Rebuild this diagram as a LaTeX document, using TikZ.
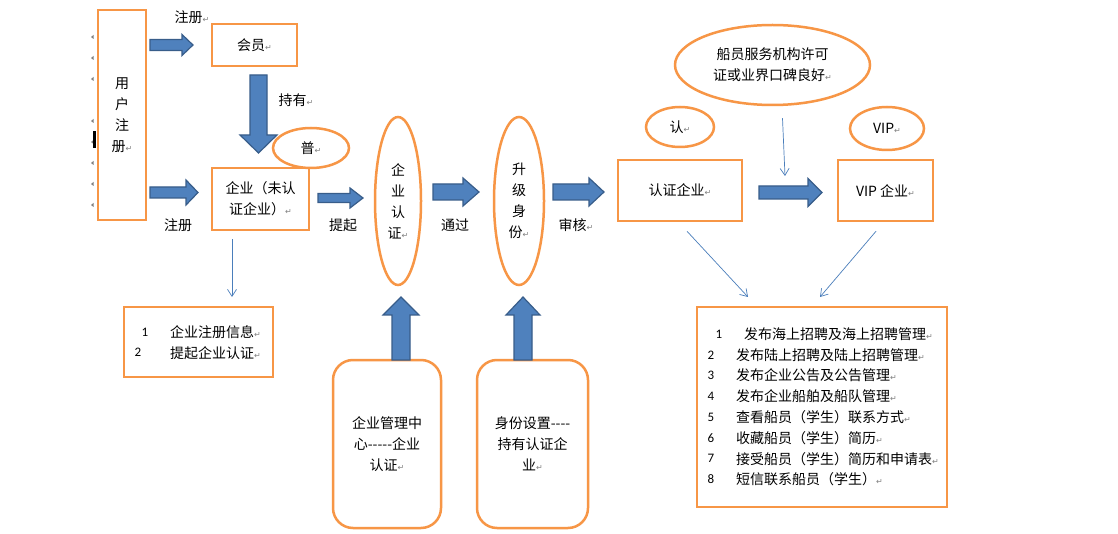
\documentclass[tikz,border=0pt]{standalone}
\usepackage{fontspec}
\setmainfont{Noto Sans CJK SC}
\newfontfamily\dvfont{DejaVu Sans}
\newfontfamily\numfont{Carlito}
\usetikzlibrary{arrows.meta,shapes.geometric}
\definecolor{obox}{HTML}{F79646}
\definecolor{afill}{HTML}{4F81BD}
\definecolor{aline}{HTML}{385D8A}
\definecolor{thinc}{HTML}{4A7EBB}
\newcommand\parmk{{\dvfont\fontsize{8}{8}\selectfont\color{gray}↵}}
\newcommand\hblk[6]{\filldraw[blk] (#1,#4-#5)--(#3,#4-#5)--(#3,#4-#6)--(#2,#4)--(#3,#4+#6)--(#3,#4+#5)--(#1,#4+#5)--cycle;}
\newcommand\vblk[6]{\filldraw[blk] (#1-#5,#2)--(#1+#5,#2)--(#1+#5,#4)--(#1+#6,#4)--(#1,#3)--(#1-#6,#4)--(#1-#5,#4)--cycle;}
\begin{document}
\begin{tikzpicture}[x=1pt,y=-1pt,
  ob/.style={draw=obox,line width=2.5pt,inner sep=0pt,font=\fontsize{14}{21}\selectfont,align=center},
  oel/.style={ob,ellipse},
  txt/.style={font=\fontsize{14}{21}\selectfont,inner sep=0pt,align=center},
  ltxt/.style={txt,anchor=west},
  num/.style={font=\numfont\fontsize{13}{13}\selectfont,inner sep=0pt},
  blk/.style={fill=afill,draw=aline,line width=1.2pt,line join=miter},
  thinarr/.style={draw=thinc,line width=0.7pt,-{Straight Barb[length=7pt,width=9pt]}},
  mk/.style={fill=gray}]
\useasboundingbox (0,0) rectangle (1118,534);
\fill[white] (0,0) rectangle (1118,534);

% small editor marks at the left edge
\foreach \yy in {37,58,79,121,142,163,184,205} {\fill[mk] (93.5,\yy-2)--(93.5,\yy+2)--(91,\yy)--cycle;}
\fill[black] (93,131) rectangle (95.5,148);

% boxes
\node[ob,minimum width=48,minimum height=210] (user) at (122,115) {用\\户\\注\\册\parmk};
\node[ob,minimum width=85,minimum height=42] (member) at (254.5,45) {会员\parmk};
\node[ob,minimum width=97,minimum height=62] (qiye) at (260.5,199) {企业（未认\\证企业）\parmk};
\node[ob,minimum width=124,minimum height=61] (cert) at (680,190.5) {认证企业\parmk};
\node[ob,minimum width=95,minimum height=61] (vip) at (885.5,190.5) {VIP 企业\parmk};
\node[ob,minimum width=149,minimum height=70] (box12) at (198.5,342) {};
\node[ob,minimum width=250,minimum height=200] (list) at (822,407) {};
\node[ob,rounded corners=20pt,minimum width=108,minimum height=168] (mgmt) at (387,444) {企业管理中\\心-{}-{}-{}-{}-企业\\认证\parmk};
\node[ob,rounded corners=20pt,minimum width=111,minimum height=168] (ident) at (532.5,444) {身份设置-{}-{}-{}-\\持有认证企\\业\parmk};

% ellipses
\node[oel,minimum width=76,minimum height=40] (pu) at (311,148) {普\parmk};
\node[oel,minimum width=46,minimum height=168] (qyrz) at (398,201) {企\\业\\认\\证\parmk};
\node[oel,minimum width=50,minimum height=168] (sjsf) at (519,201) {升\\级\\身\\份\parmk};
\node[oel,minimum width=68,minimum height=40] (ren) at (680,127) {认\parmk};
\node[oel,minimum width=74,minimum height=43] (vipe) at (887,128.5) {VIP\parmk};
\node[oel,minimum width=195,minimum height=80] (crew) at (772.5,65) {船员服务机构许可\\证或业界口碑良好\parmk};

% block arrows
\hblk{150}{193}{182}{45}{5.5}{10.5}
\hblk{150}{198}{186}{192.5}{5.5}{12.5}
\hblk{318}{363}{350}{198}{4.5}{10}
\hblk{433}{479}{463}{192}{8}{14}
\hblk{553}{604}{589}{192}{8}{14}
\hblk{759}{822}{808}{192.5}{6.5}{14}
\vblk{258.5}{75}{153}{135}{8.5}{18.5}
\vblk{401}{360}{297}{315}{9}{18}
\vblk{523}{360}{297}{315}{9}{17}

% labels
\node[txt] (l1) at (192,17) {注册\parmk};
\node[txt] (l2) at (296,100) {持有\parmk};
\node[txt] (l3) at (178,225) {注册};
\node[txt] (l4) at (343,225) {提起};
\node[txt] (l5) at (455,225) {通过};
\node[txt] (l6) at (576,225) {审核\parmk};

% thin connectors
\coordinate (qa) at (232,297);
\coordinate (ca) at (748,297);
\coordinate (va) at (820,297);
\coordinate (cr) at (785,176);
\draw[thinarr] ([xshift=-28.5pt,yshift=-8pt]qiye.south) -- (qa);
\draw[thinarr] ([xshift=7pt,yshift=-9pt]cert.south) -- (ca);
\draw[thinarr] ([xshift=-9.5pt,yshift=-9pt]vip.south) -- (va);
\draw[thinarr] ([xshift=10pt,yshift=-12pt]crew.south) -- (cr);

% box 1-2 text
\node[num] (n1) at (145,332) {1};
\node[num] (n2) at (138,352) {2};
\node[ltxt] (t1) at (170,332) {企业注册信息\parmk};
\node[ltxt] (t2) at (170,353) {提起企业认证\parmk};

% list text
\node[num] (m1) at (719,334) {1};
\node[ltxt] (s1) at (744,334) {发布海上招聘及海上招聘管理\parmk};
\node[num] (m2) at (711,354.8) {2};
\node[ltxt] (s2) at (736,354.8) {发布陆上招聘及陆上招聘管理\parmk};
\node[num] (m3) at (711,375.6) {3};
\node[ltxt] (s3) at (736,375.6) {发布企业公告及公告管理\parmk};
\node[num] (m4) at (711,396.4) {4};
\node[ltxt] (s4) at (736,396.4) {发布企业船舶及船队管理\parmk};
\node[num] (m5) at (711,417.2) {5};
\node[ltxt] (s5) at (736,417.2) {查看船员（学生）联系方式\parmk};
\node[num] (m6) at (711,438) {6};
\node[ltxt] (s6) at (736,438) {收藏船员（学生）简历\parmk};
\node[num] (m7) at (711,458.8) {7};
\node[ltxt] (s7) at (736,458.8) {接受船员（学生）简历和申请表\parmk};
\node[num] (m8) at (711,479.6) {8};
\node[ltxt] (s8) at (736,479.6) {短信联系船员（学生）\parmk};
\end{tikzpicture}
\end{document}
